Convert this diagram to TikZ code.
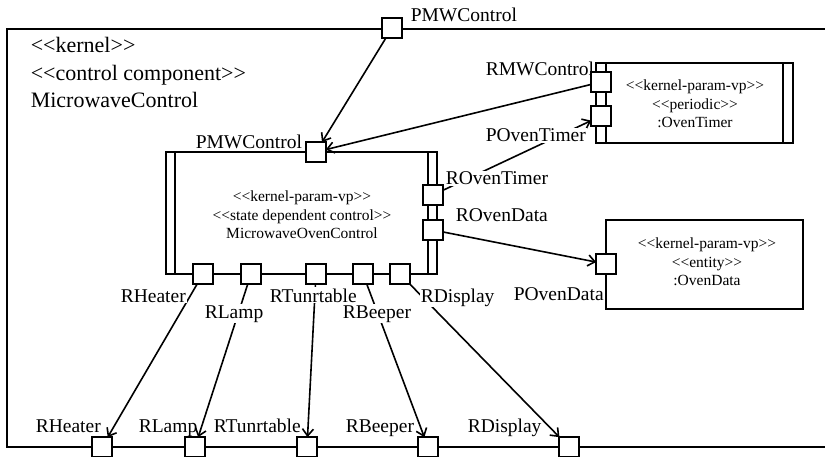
\documentclass[tikz,border=0pt]{standalone}
\usepackage{fontspec}
\setmainfont{Liberation Serif}[Ligatures=TeXOff]
\usetikzlibrary{arrows.meta}
\newcommand{\lab}{\fontsize{19.5}{21}\selectfont}
\newcommand{\ttl}{\fontsize{22}{24}\selectfont}
\newcommand{\inr}{\fontsize{15.5}{18.5}\selectfont}
\begin{document}
\begin{tikzpicture}[x=1pt,y=-1pt,
  every path/.style={line width=1.6pt},
  pbox/.style={draw, fill=white, minimum width=18pt, minimum height=18pt, inner sep=0pt, line width=1.6pt},
  lbl/.style={font=\lab, inner sep=1pt, fill=white, anchor=base west},
  ttltxt/.style={font=\ttl, inner sep=0pt, anchor=base west},
  inrtxt/.style={font=\inr, align=center, inner sep=0pt},
  arr/.style={-{Straight Barb[length=7pt,width=11pt]}, line width=1.6pt}]
\useasboundingbox (0,0) rectangle (825,457);
% outer frame (right side runs past the picture)
\draw (825,29) -- (7,29) -- (7,447) -- (825,447);
\node[ttltxt] (t1) at (30,53) {<<kernel>>};
\node[ttltxt] (t2) at (30,81) {<<control component>>};
\node[ttltxt] (t3) at (30,108) {MicrowaveControl};
% main component
\draw (166,152) rectangle (437,274);
\draw (175,152) -- (175,274);
\draw (428,152) -- (428,274);
\node[inrtxt] (mtxt) at (302,215) {<<kernel-param-vp>>\\<<state dependent control>>\\MicrowaveOvenControl};
% OvenTimer
\draw (596,63) rectangle (793,143);
\draw (606,63) -- (606,143);
\draw (783,63) -- (783,143);
\node[inrtxt] (otxt) at (695,104) {<<kernel-param-vp>>\\<<periodic>>\\:OvenTimer};
% OvenData
\draw (606,220) rectangle (803,309);
\node[inrtxt] (dtxt) at (707,262) {<<kernel-param-vp>>\\<<entity>>\\:OvenData};
% ports
\node[pbox] (ptop) at (392,28) {};
\node[pbox] (pmw) at (316,152) {};
\node[pbox] (rmw) at (601,82) {};
\node[pbox] (pot) at (601,116) {};
\node[pbox] (rot) at (433,195) {};
\node[pbox] (rod) at (433,230) {};
\node[pbox] (pod) at (606,264) {};
\node[pbox] (mh) at (203,274) {};
\node[pbox] (ml) at (251,274) {};
\node[pbox] (mt) at (316,274) {};
\node[pbox] (mb) at (363,274) {};
\node[pbox] (md) at (400,274) {};
\node[pbox] (bh) at (102,447) {};
\node[pbox] (bl) at (195,447) {};
\node[pbox] (bt) at (307,447) {};
\node[pbox] (bb) at (428,447) {};
\node[pbox] (bd) at (569,447) {};
% connectors
\draw[arr] (ptop) -- (pmw);
\draw[arr] (rmw) -- (pmw);
\draw[arr] (rot) -- (pot);
\draw[arr] (rod) -- (pod);
\draw[arr] (mh) -- (bh);
\draw[arr] (ml) -- (bl);
\draw[arr] (mt) -- (bt);
\draw[arr] (mb) -- (bb);
\draw[arr] (md) -- (bd);
% labels
\node[lbl] (l1) at (409,22) {PMWControl};
\node[lbl] (l2) at (194,149) {PMWControl};
\node[lbl] (l3) at (484,76) {RMWControl};
\node[lbl] (l4) at (484,142) {POvenTimer};
\node[lbl] (l5) at (444,185) {ROvenTimer};
\node[lbl] (l6) at (454,222) {ROvenData};
\node[lbl] (l7) at (512,300) {POvenData};
\node[lbl] (l8) at (119,302) {RHeater};
\node[lbl] (l9) at (203,318) {RLamp};
\node[lbl] (l10) at (268,302) {RTunrtable};
\node[lbl] (l11) at (341,318) {RBeeper};
\node[lbl] (l12) at (419,302) {RDisplay};
\node[lbl,fill=none] (l13) at (34,432) {RHeater};
\node[lbl,fill=none] (l14) at (137,432) {RLamp};
\node[lbl,fill=none] (l15) at (212,432) {RTunrtable};
\node[lbl,fill=none] (l16) at (344,432) {RBeeper};
\node[lbl,fill=none] (l17) at (466,432) {RDisplay};
% redraw ports on top
\foreach \p in {ptop,pmw,rmw,pot,rot,rod,pod,mh,ml,mt,mb,md,bh,bl,bt,bb,bd}
  \draw[fill=white] (\p.north west) rectangle (\p.south east);
\end{tikzpicture}
\end{document}
